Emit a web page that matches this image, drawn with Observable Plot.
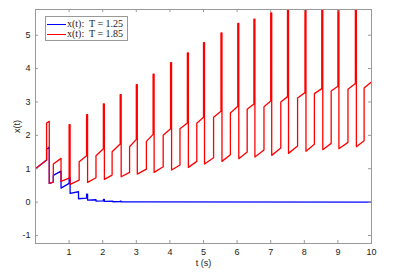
<!DOCTYPE html>
<html><head><meta charset="utf-8">
<script src="https://cdn.jsdelivr.net/npm/d3@7"></script>
<script src="https://cdn.jsdelivr.net/npm/@observablehq/plot@0.6"></script>
<style>
body{margin:0;background:#fff;}
#chart{position:relative;width:394px;height:273px;}
#legend{position:absolute;left:45px;top:16px;width:81px;height:23px;border:1px solid #999;background:#fff;font-family:"Liberation Serif","Times New Roman",serif;font-size:10px;color:#222;}
#legend .sw{position:absolute;left:1px;width:19px;height:1.4px;}
#legend .tx{position:absolute;left:21px;line-height:10px;white-space:pre;}
</style></head>
<body><div id="chart"></div>
<script>
// ---- data ----
const xTicks = [1,2,3,4,5,6,7,8,9,10];
const yTicks = [-1,0,1,2,3,4,5];
const seriesNames = ["x(t):  T = 1.25", "x(t):  T = 1.85"];

// red (T = 1.85): start of the trajectory
const redStartT = [0, 0.33, 0.33, 0.41, 0.41, 0.53, 0.53, 0.76, 0.76, 1.0];
const redStartX = [1.0, 1.26, 2.37, 2.42, 0.56, 0.60, 1.14, 1.31, 0.62, 0.72];
// red: periodic part
const spikeT   = [1.0,1.52,2.02,2.52,3.0,3.5,4.02,4.52,5.0,5.52,6.02,6.5,7.0,7.5,8.02,8.52,9.0,9.52];
const spikeTop = [2.32,2.62,2.94,3.22,3.52,3.83,4.18,4.47,4.78,5.07,5.35,5.48,5.67,5.85,6.07,6.29,6.42,6.57];
const spikeDur = 0.03;
const dropLow  = [0.53,0.59,0.68,0.76,0.84,0.89,0.96,1.04,1.14,1.22,1.30,1.35,1.40,1.46,1.52,1.57,1.60,1.66];
const jumpT    = [1.3,1.8,2.28,2.8,3.3,3.8,4.3,4.8,5.3,5.8,6.3,6.8,7.3,7.8,8.3,8.8,9.3,9.78];
const preJump  = [0.66,0.73,0.81,0.89,0.99,1.06,1.11,1.22,1.33,1.42,1.50,1.56,1.62,1.68,1.73,1.76,1.79,1.84];
const postJump = [1.21,1.39,1.51,1.66,1.82,2.0,2.2,2.36,2.54,2.67,2.78,2.86,3.0,3.12,3.25,3.33,3.38,3.42];
const preSpike = [1.39,1.6,1.74,1.88,2.03,2.2,2.37,2.54,2.72,2.87,2.94,3.03,3.16,3.28,3.4,3.47,3.55,3.6];
const tEnd = 10;

// blue (T = 1.25)
const blueT = [0,0.33,0.33,0.41,0.41,0.53,0.53,0.76,0.76,1.0,1.0,1.03,1.03,1.28,1.28,1.52,1.52,1.55,1.55,1.8,1.8,2.02,2.02,2.05,2.05,2.3,2.3,2.52,2.52,2.55,2.55,3.0,10];
const blueX = [1.0,1.26,1.58,1.65,0.56,0.60,0.80,0.93,0.42,0.56,0.74,0.74,0.26,0.31,0.10,0.12,0.24,0.24,0.06,0.07,0.03,0.035,0.08,0.08,0.02,0.025,0.01,0.012,0.025,0.025,0.005,0.004,0];

// ---- build tables ----
const red = redStartT.map((t,i)=>({t, x: redStartX[i]}));
spikeT.forEach((ts,i)=>{
  red.push({t: ts, x: spikeTop[i]});
  red.push({t: ts + spikeDur, x: spikeTop[i]});
  red.push({t: ts + spikeDur, x: dropLow[i]});
  red.push({t: jumpT[i], x: preJump[i]});
  red.push({t: jumpT[i], x: postJump[i]});
  red.push({t: i < spikeT.length-1 ? spikeT[i+1] : tEnd, x: preSpike[i]});
});
const blue = blueT.map((t,i)=>({t, x: blueX[i]}));

const W = 394, H = 273, mL = 35, mR = 23, mT = 9, mB = 30;
const fw = W - mL - mR, fh = H - mT - mB, tk = 3;
const gray = "#999";

const chart = Plot.plot({
  width: W, height: H,
  marginLeft: mL, marginRight: mR, marginTop: mT, marginBottom: mB,
  style: {fontFamily: "'Liberation Sans', Arial, sans-serif", fontSize: "9px", color: "#1a1a1a", background: "#fff"},
  x: {domain: [0, 10]},
  y: {domain: [-1.24, 5.77]},
  marks: [
    Plot.line(blue, {x: "t", y: "x", stroke: "#0000ff", strokeWidth: 1.3, clip: true}),
    Plot.line(red, {x: "t", y: "x", stroke: "#ff0000", strokeWidth: 1.3, clip: true}),
    Plot.frame({stroke: gray}),
    Plot.tickX(xTicks, {x: d=>d, insetTop: fh - tk, stroke: gray}),
    Plot.tickX(xTicks, {x: d=>d, insetBottom: fh - tk, stroke: gray}),
    Plot.tickY(yTicks, {y: d=>d, insetRight: fw - tk, stroke: gray}),
    Plot.tickY(yTicks, {y: d=>d, insetLeft: fw - tk, stroke: gray}),
    Plot.axisX({ticks: xTicks, tickFormat: d=>String(d), tickSize: 0, tickPadding: 5, label: "t (s)", labelAnchor: "center", labelArrow: "none", labelOffset: 22, fontSize: 9}),
    Plot.axisY({ticks: yTicks, tickFormat: d=>String(d), tickSize: 0, tickPadding: 5, label: "x(t)", labelAnchor: "center", labelArrow: "none", labelOffset: 22, fontSize: 9})
  ]
});
const holder = document.getElementById("chart");
holder.appendChild(chart);

// legend
const lg = document.createElement("div");
lg.id = "legend";
const cols = ["#0000ff", "#ff0000"];
seriesNames.forEach((name,i)=>{
  const sw = document.createElement("div");
  sw.className = "sw"; sw.style.background = cols[i]; sw.style.top = (7 + i*10) + "px";
  const tx = document.createElement("div");
  tx.className = "tx"; tx.textContent = name; tx.style.top = (2 + i*10) + "px";
  lg.appendChild(sw); lg.appendChild(tx);
});
holder.appendChild(lg);
</script></body></html>
